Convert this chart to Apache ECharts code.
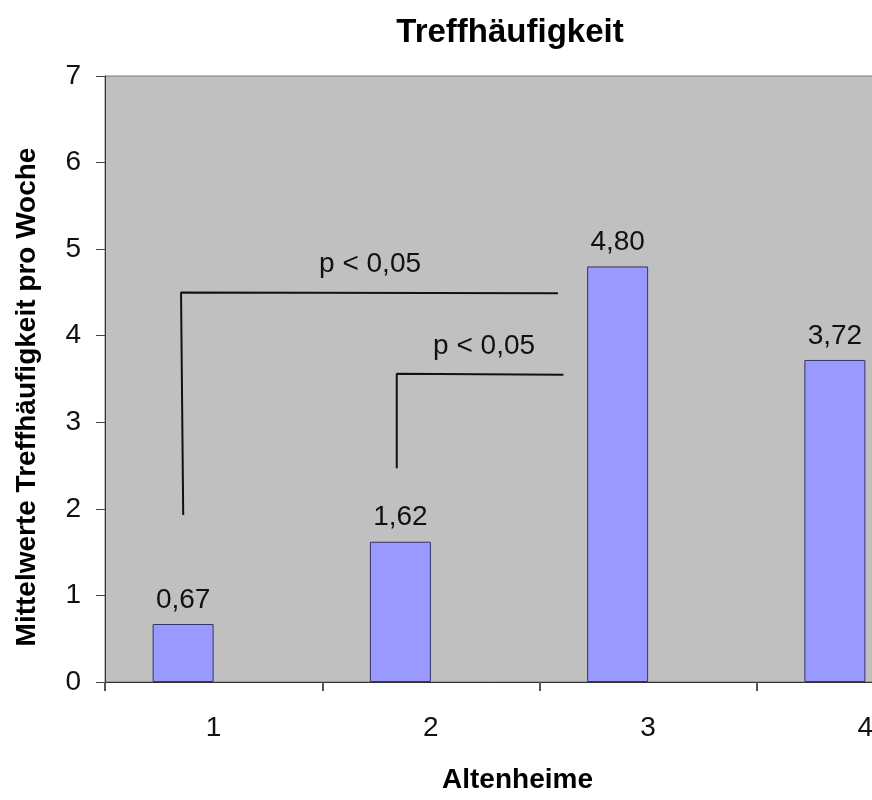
<!DOCTYPE html>
<html>
<head>
<meta charset="utf-8">
<title>Treffhäufigkeit</title>
<script src="https://cdn.jsdelivr.net/npm/echarts@6/dist/echarts.min.js"></script>
<style>
  html, body { margin: 0; padding: 0; background: #ffffff; }
  #chart { width: 872px; height: 800px; }
</style>
</head>
<body>
<div id="chart"></div>
<script>
// Categories (Altenheime) and mean meeting frequency per week
const categories = ['1', '2', '3', '4'];
const meanValues = [0.67, 1.62, 4.80, 3.72];

// Y-axis range
const yMin = 0;
const yMax = 7;
const yStep = 1;

// Significance brackets, in [category position, value] pairs
// (category position: 0 = centre of first category, 1 = second, ...)
const bracketA = [[-0.140, 1.93], [-0.150, 4.50], [1.585, 4.49]];
const bracketB = [[0.843, 2.47], [0.843, 3.56], [1.610, 3.55]];
const pLabels = ['p < 0,05', 'p < 0,05'];
const pLabelPoints = [[0.72, 4.83], [1.245, 3.88]];

const FONT = "'Liberation Sans', Arial, sans-serif";
const fmt = v => v.toFixed(2).replace('.', ',');

const chart = echarts.init(document.getElementById('chart'), null, { renderer: 'canvas' });

const bracketStyle = { color: '#111111', width: 2 };

chart.setOption({
  animation: false,
  backgroundColor: '#ffffff',
  title: {
    text: 'Treffhäufigkeit',
    left: 505,
    top: 11,
    textAlign: 'center',
    textStyle: { fontFamily: FONT, fontSize: 33, fontWeight: 'bold', color: '#000000' }
  },
  grid: {
    left: 105,
    top: 76,
    height: 606,
    width: 869,
    outerBoundsMode: 'none',
    containLabel: false,
    show: true,
    backgroundColor: '#c0c0c0',
    borderColor: '#7a7a7a',
    borderWidth: 1
  },
  xAxis: [
    {
      type: 'category',
      data: categories,
      boundaryGap: true,
      name: 'Altenheime',
      nameLocation: 'middle',
      nameGap: 84,
      nameTextStyle: { fontFamily: FONT, fontSize: 28, fontWeight: 'bold', color: '#000000', padding: [0, 44, 0, 0] },
      axisLine: { lineStyle: { color: '#333333', width: 1 } },
      axisTick: { show: true, length: 9, lineStyle: { color: '#555555', width: 2 } },
      axisLabel: { fontFamily: FONT, fontSize: 28, color: '#111111', margin: 32 },
      splitLine: { show: false }
    },
    {
      type: 'value',
      min: -0.5,
      max: 3.5,
      show: false
    }
  ],
  yAxis: {
    type: 'value',
    min: yMin,
    max: yMax,
    interval: yStep,
    name: 'Mittelwerte Treffhäufigkeit pro Woche',
    nameLocation: 'middle',
    nameGap: 64,
    nameTextStyle: { fontFamily: FONT, fontSize: 28, fontWeight: 'bold', color: '#000000', padding: [0, 36, 0, 0] },
    axisLine: { show: true, onZero: false, lineStyle: { color: '#333333', width: 1 } },
    axisTick: { show: true, length: 9, lineStyle: { color: '#444444', width: 1 } },
    axisLabel: { fontFamily: FONT, fontSize: 28, color: '#111111', margin: 24 },
    splitLine: { show: false }
  },
  series: [
    {
      type: 'bar',
      name: 'Mittelwert',
      data: meanValues,
      xAxisIndex: 0,
      barWidth: 61,
      barGap: '0%',
      itemStyle: { color: '#9999ff', borderColor: '#333366', borderWidth: 1 },
      label: {
        show: true,
        position: 'top',
        distance: 10,
        formatter: p => fmt(p.value),
        fontFamily: FONT,
        fontSize: 28,
        color: '#111111'
      }
    },
    {
      // empty companion column: keeps the drawn bar in the left half of each category
      type: 'bar',
      data: categories.map(() => null),
      xAxisIndex: 0,
      barWidth: 61,
      barGap: '0%',
      silent: true
    },
    {
      type: 'line',
      xAxisIndex: 1,
      data: bracketA,
      symbol: 'none',
      lineStyle: bracketStyle,
      silent: true
    },
    {
      type: 'line',
      xAxisIndex: 1,
      data: bracketB,
      symbol: 'none',
      lineStyle: bracketStyle,
      silent: true
    },
    {
      type: 'scatter',
      xAxisIndex: 1,
      symbolSize: 0,
      itemStyle: { opacity: 1 },
      data: pLabelPoints.map((pt, i) => ({ value: pt, name: pLabels[i] })),
      label: {
        show: true,
        position: 'inside',
        formatter: p => p.name,
        fontFamily: FONT,
        fontSize: 28,
        color: '#111111',
        opacity: 1,
        textBorderWidth: 0
      },
      silent: true
    }
  ]
});
</script>
</body>
</html>
